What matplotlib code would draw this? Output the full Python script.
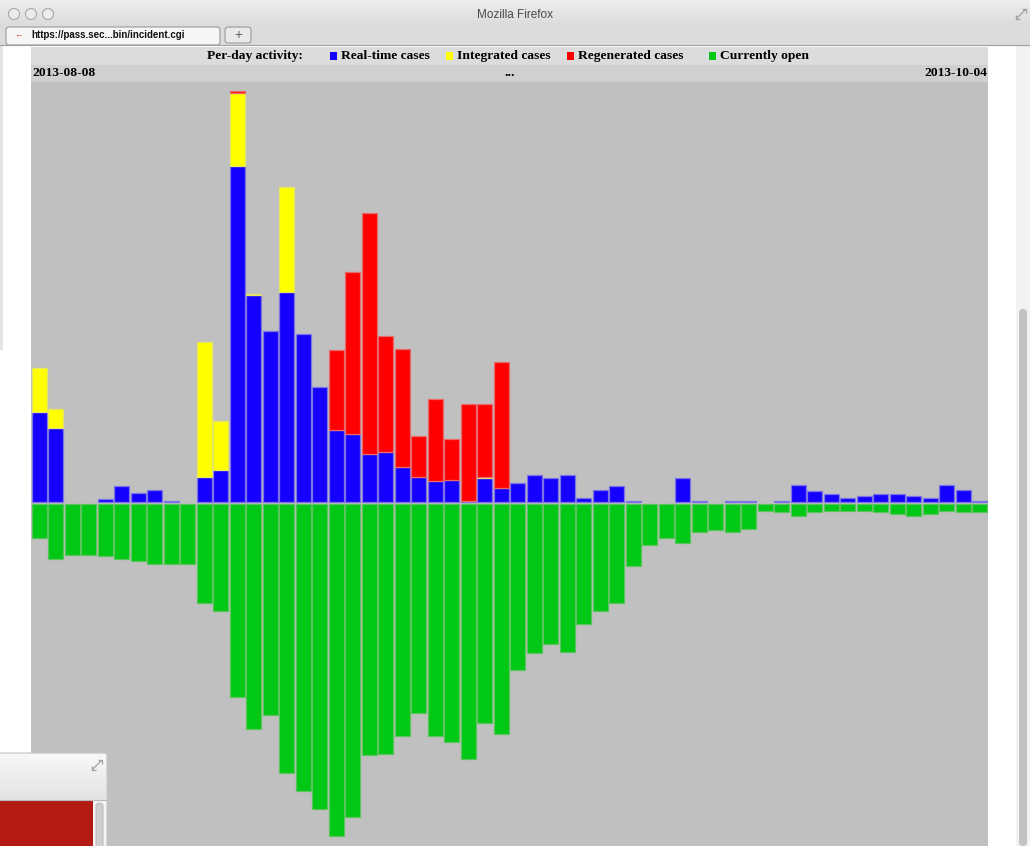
import matplotlib
matplotlib.use("Agg")
import matplotlib.pyplot as plt
from matplotlib.patches import Rectangle, Circle, FancyBboxPatch
import numpy as np
import pandas as pd

# ---------------- data ----------------
days = pd.date_range("2013-08-08", "2013-10-04", freq="D")
first_label = "2013-08-08"
last_label = "2013-10-04"

realtime = [56, 46, 0, 0, 2, 10, 6, 8, 1, 0,
            16, 20, 208, 128, 106, 130, 104, 71, 45, 42,
            30, 31, 22, 16, 13, 14, 1, 15, 9, 12,
            17, 15, 17, 3, 8, 10, 1, 0, 0, 15,
            1, 0, 1, 1, 0, 1, 11, 7, 5, 3,
            4, 5, 5, 4, 3, 11, 8, 1]
integrated = [27, 12, 0, 0, 0, 0, 0, 0, 0, 0,
              83, 30, 45, 1, 0, 65, 0, 0, 0, 0,
              0, 0, 0, 0, 0, 0, 0, 1, 0, 0,
              0, 0, 0, 0, 0, 0, 0, 0, 0, 0,
              0, 0, 0, 0, 0, 0, 0, 0, 0, 0,
              0, 0, 0, 0, 0, 0, 0, 0]
regenerated = [0, 0, 0, 0, 0, 0, 0, 0, 0, 0,
               0, 0, 1, 0, 0, 0, 0, 0, 49, 100,
               149, 72, 73, 25, 51, 25, 60, 45, 78, 0,
               0, 0, 0, 0, 0, 0, 0, 0, 0, 0,
               0, 0, 0, 0, 0, 0, 0, 0, 0, 0,
               0, 0, 0, 0, 0, 0, 0, 0]
currently_open = [21, 34, 31, 31, 32, 34, 35, 37, 37, 37,
                  61, 66, 119, 139, 130, 166, 177, 188, 205, 193,
                  155, 154, 143, 129, 143, 147, 157, 135, 142, 102,
                  92, 86, 91, 74, 66, 61, 38, 25, 21, 24,
                  17, 16, 17, 15, 4, 5, 7, 5, 4, 4,
                  4, 5, 6, 7, 6, 4, 5, 5]

legend_title = "Per-day activity:"
series_names = ["Real-time cases", "Integrated cases", "Regenerated cases", "Currently open"]

# ---------------- style ----------------
W, H = 1030, 846
C_BLUE, C_YEL, C_RED, C_GRN = "#1500ff", "#ffff00", "#ff0000", "#00c815"
E_BLUE, E_YEL, E_RED, E_GRN = "#7c74e6", "#e4e466", "#e86a6a", "#5cc45c"
PLOT_BG = "#c0c0c0"
SERIF = ["Liberation Serif", "DejaVu Serif"]
SANS = ["Liberation Sans", "DejaVu Sans"]

fig = plt.figure(figsize=(W / 100, H / 100), dpi=100)
fig.patch.set_facecolor("white")

# background (browser chrome) in pixel coordinates
bg = fig.add_axes([0, 0, 1, 1], zorder=0)
bg.set_xlim(0, W)
bg.set_ylim(H, 0)
bg.axis("off")


def resize_icon(axh, cx, cy):
    kw = dict(color="#a0a0a0", lw=0.9, solid_capstyle="butt")
    axh.plot([cx - 5, cx + 5], [cy + 5, cy - 5], **kw)
    axh.plot([cx + 1, cx + 5, cx + 5], [cy - 5, cy - 5, cy - 1], **kw)
    axh.plot([cx - 5, cx - 5, cx - 1], [cy + 1, cy + 5, cy + 5], **kw)


# title bar
for i, c in enumerate(np.linspace(0.93, 0.86, 25)):
    bg.add_patch(Rectangle((0, i), W, 1.05, color=(c, c, c), lw=0))
bg.text(515, 14.5, "Mozilla Firefox", ha="center", va="center", fontsize=8.5,
        color="#4a4a4a", family=SANS)
for cx in (14, 31, 48):
    bg.add_patch(Circle((cx, 14), 5.5, facecolor="#ececec", edgecolor="#a8a8a8", lw=0.8))
resize_icon(bg, 1021, 14)
# tab strip
bg.add_patch(Rectangle((0, 25), W, 20, color="#dcdcdc", lw=0))
bg.plot([0, W], [45, 45], color="#a0a0a0", lw=0.8)
bg.add_patch(FancyBboxPatch((6, 27), 214, 18, boxstyle="round,pad=0,rounding_size=3",
                            facecolor="#f6f6f6", edgecolor="#9a9a9a", lw=0.8))
bg.text(14, 35.5, "\u2190", ha="left", va="center", fontsize=6, color="#d04040", family=SANS)
bg.text(31, 35.5, "https://pass.sec...bin/incident.cgi", ha="left", va="center",
        fontsize=7, color="#111111", family=SANS, weight="bold")
bg.add_patch(FancyBboxPatch((225, 27), 26, 16, boxstyle="round,pad=0,rounding_size=3",
                            facecolor="#eaeaea", edgecolor="#9a9a9a", lw=0.8))
bg.text(238, 34.5, "+", ha="center", va="center", fontsize=10, color="#666666", family=SANS)
# left sliver of another window
bg.add_patch(Rectangle((0, 45), 3, 305, color="#e4e4e4", lw=0))
# scrollbar
bg.add_patch(Rectangle((1016, 45), 14, H - 45, color="#f2f2f2", lw=0))
bg.add_patch(FancyBboxPatch((1019, 309), 8, H - 309, boxstyle="round,pad=0,rounding_size=4",
                            facecolor="#c2c2c2", edgecolor="none"))

# header rows of the chart
bg.add_patch(Rectangle((31, 47), 957, 18, color="#dcdcdc", lw=0))
bg.add_patch(Rectangle((31, 65), 957, 17, color="#d0d0d0", lw=0))
hdr_kw = dict(va="center", fontsize=9.7, family=SERIF, weight="bold", color="black")
bg.text(207, 56, legend_title, ha="left", **hdr_kw)
for x0, name, col in zip((330, 446, 567, 709), series_names, (C_BLUE, C_YEL, C_RED, C_GRN)):
    bg.add_patch(Rectangle((x0, 52), 7, 8, color=col, lw=0))
    bg.text(x0 + 11, 56, name, ha="left", **hdr_kw)
bg.text(32, 73, first_label, ha="left", **hdr_kw)
bg.text(510, 73, "...", ha="center", **hdr_kw)
bg.text(987, 73, last_label, ha="right", **hdr_kw)

# ---------------- chart ----------------
PX_PER_UNIT = 1.62
BASE_Y = 502.5
TOP_Y, BOT_Y, LEFT_X, RIGHT_X = 82, 846, 31, 988
ax = fig.add_axes([LEFT_X / W, 1 - BOT_Y / H, (RIGHT_X - LEFT_X) / W, (BOT_Y - TOP_Y) / H], zorder=1)
ax.set_facecolor(PLOT_BG)
ax.set_xlim(-0.5, len(days) - 0.5)
ax.set_ylim(-(BOT_Y - BASE_Y) / PX_PER_UNIT, (BASE_Y - TOP_Y) / PX_PER_UNIT)
for s in ax.spines.values():
    s.set_visible(False)
ax.set_xticks([])
ax.set_yticks([])

x = np.arange(len(days))
rt = np.array(realtime, float)
it = np.array(integrated, float)
rg = np.array(regenerated, float)
op = np.array(currently_open, float)
bw = 0.9
lw = 0.9
GAP = 1.1  # small visual gap between positive and negative bars


def draw(vals, bottom, fc, ec):
    m = vals != 0
    ax.bar(x[m], vals[m], bottom=bottom[m], width=bw,
           color=fc, edgecolor=ec, linewidth=lw)


draw(rt, np.zeros_like(rt), C_BLUE, E_BLUE)
draw(it, rt, C_YEL, E_YEL)
draw(rg, rt + it, C_RED, E_RED)
draw(-op, np.full_like(op, -GAP), C_GRN, E_GRN)

# ---------------- overlay (other window fragment) ----------------
ov = fig.add_axes([0, 0, 1, 1], zorder=2)
ov.set_xlim(0, W)
ov.set_ylim(H, 0)
ov.axis("off")
ov.patch.set_alpha(0)
ov.add_patch(FancyBboxPatch((-5, 753), 112, 100, boxstyle="round,pad=0,rounding_size=4",
                            facecolor="#ececec", edgecolor="#c8c8c8", lw=0.8))
for i, c in enumerate(np.linspace(0.97, 0.89, 46)):
    ov.add_patch(Rectangle((0, 754 + i), 106, 1.05, color=(c, c, c), lw=0))
ov.plot([0, 106], [800, 800], color="#b8b8b8", lw=0.8)
ov.add_patch(Rectangle((0, 801), 93, 46, color="#b41a14", lw=0))
ov.add_patch(Rectangle((93, 801), 13, 46, color="#f4f4f4", lw=0))
ov.add_patch(FancyBboxPatch((96, 803), 7, 50, boxstyle="round,pad=0,rounding_size=3",
                            facecolor="#cfcfcf", edgecolor="#b0b0b0", lw=0.6))
resize_icon(ov, 97, 765)

fig.savefig("out.png", dpi=100, facecolor=fig.get_facecolor())
